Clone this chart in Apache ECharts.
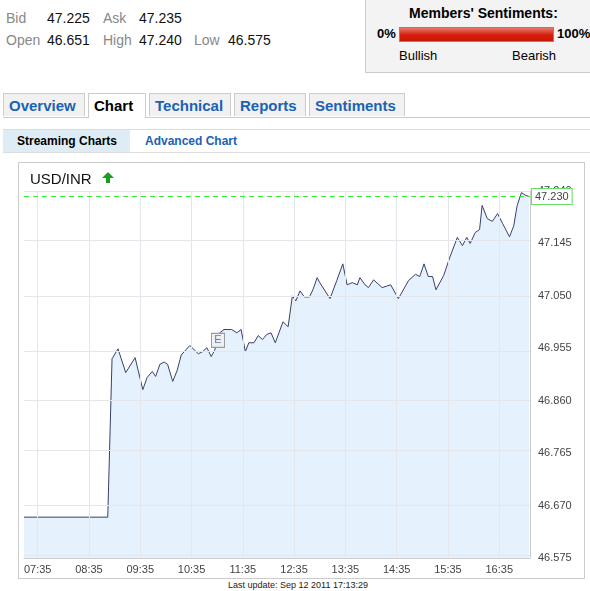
<!DOCTYPE html>
<html lang="en">
<head>
<meta charset="UTF-8">
<title>USD/INR</title>
<script src="https://cdn.jsdelivr.net/npm/echarts@6.0.0/dist/echarts.min.js"></script>
<style>
  body { margin: 0; width: 590px; height: 591px; font-family: "Liberation Sans", Arial, sans-serif; background: #fff; position: relative; overflow: hidden; }
  .quote { position: absolute; left: 6px; font-size: 14px; color: #111; }
  .quote span.k { color: #888; }
  .senti { position: absolute; left: 365px; top: -1px; width: 230px; height: 72px; background: #f3f3f3; border: 1px solid #ccc; font-size: 13px; }
  .bar { position: absolute; left: 33px; top: 27px; width: 153px; height: 13px; border: 1px solid #888; background: linear-gradient(#e8776a, #d61c0a 55%, #c51a08); }
  .tabs { position: absolute; top: 93px; left: 3px; right: 0; height: 24px; border-bottom: 1px solid #ccc; }
  .tab { position: absolute; top: 0; height: 23px; background: #f1f1f1; border: 1px solid #ccc; border-bottom: none; color: #1a62b3; font-weight: bold; font-size: 15px; line-height: 24px; padding-left: 5px; box-sizing: border-box; }
  .tab.on { background: #fff; color: #000; height: 25px; }
  .sub { position: absolute; top: 129px; left: 3px; right: 0; height: 22px; border-top: 1px solid #ddd; border-bottom: 1px solid #ddd; font-size: 12px; font-weight: bold; white-space: nowrap; }
  #chart { position: absolute; left: 18px; top: 162px; width: 565px; height: 415px; border: 1px solid #ccc; }
</style>
</head>
<body>
<div class="quote" style="top:10px"><span class="k">Bid</span><span style="position:absolute;left:41px">47.225</span><span class="k" style="position:absolute;left:97px">Ask</span><span style="position:absolute;left:133px">47.235</span></div>
<div class="quote" style="top:32px"><span class="k">Open</span><span style="position:absolute;left:41px">46.651</span><span class="k" style="position:absolute;left:97px">High</span><span style="position:absolute;left:133px">47.240</span><span class="k" style="position:absolute;left:188px">Low</span><span style="position:absolute;left:222px">46.575</span></div>

<div class="senti">
  <div style="position:absolute;left:43px;top:5px;font-weight:bold;font-size:14px">Members' Sentiments:</div>
  <div style="position:absolute;left:11px;top:26px;font-weight:bold">0%</div>
  <div class="bar"></div>
  <div style="position:absolute;left:191px;top:26px;font-weight:bold">100%</div>
  <div style="position:absolute;left:33px;top:48px">Bullish</div>
  <div style="position:absolute;left:146px;top:48px">Bearish</div>
</div>

<div class="tabs">
  <div class="tab" style="left:0;width:82px">Overview</div>
  <div class="tab on" style="left:85px;width:58px">Chart</div>
  <div class="tab" style="left:146px;width:82px">Technical</div>
  <div class="tab" style="left:231px;width:72px">Reports</div>
  <div class="tab" style="left:306px;width:96px">Sentiments</div>
</div>
<div class="sub">
  <div style="position:absolute;left:0;top:0;width:127px;height:22px;background:#deecf5;line-height:22px;padding-left:14px;box-sizing:border-box">Streaming Charts</div>
  <div style="position:absolute;left:142px;top:0;line-height:22px;color:#1a62b3">Advanced Chart</div>
</div>

<div id="chart"></div>
<div style="position:absolute;left:0;width:596px;top:580px;text-align:center;font-size:9px;color:#222">Last update: Sep 12 2011 17:13:29</div>

<script>
// minutes since midnight
var times = [439, 537, 542, 549, 558, 569, 578, 583, 589, 593, 598, 603, 607, 613, 618, 623, 633, 643, 648, 653, 658, 662,
  668, 673, 682, 688, 693, 698, 702, 708, 713, 718, 723, 728, 733, 742, 748, 753, 757, 762, 767, 773, 777, 782, 785,
  797, 805, 812, 817, 823, 829, 832, 838, 842, 848, 858, 868, 877, 889, 897, 902, 907, 912, 917, 921, 930, 937, 946,
  952, 957, 961, 967, 972, 975, 981, 987, 993, 999, 1002, 1007, 1012, 1016, 1021, 1026, 1030];
var prices = [46.649, 46.649, 46.936, 46.954, 46.911, 46.938, 46.880, 46.902, 46.913, 46.904, 46.926, 46.930, 46.926, 46.895, 46.914, 46.943, 46.960, 46.945, 46.949, 46.956, 46.940, 46.951,
  46.983, 46.989, 46.989, 46.983, 46.989, 46.949, 46.965, 46.965, 46.978, 46.971, 46.980, 46.983, 46.965, 47.003, 46.994, 47.050, 47.041, 47.059, 47.048, 47.048, 47.061, 47.083, 47.074,
  47.045, 47.078, 47.108, 47.070, 47.074, 47.070, 47.083, 47.070, 47.065, 47.079, 47.065, 47.070, 47.045, 47.078, 47.089, 47.085, 47.108, 47.085, 47.085, 47.061, 47.087, 47.119, 47.156,
  47.141, 47.156, 47.145, 47.165, 47.170, 47.214, 47.190, 47.185, 47.199, 47.181, 47.172, 47.157, 47.177, 47.214, 47.237, 47.232, 47.230];
var xTicks = [455, 515, 575, 635, 695, 755, 815, 875, 935, 995];
var yTicks = [46.575, 46.670, 46.765, 46.860, 46.955, 47.050, 47.145, 47.240];
var lastPrice = 47.230;
var eventPoint = [666, 46.953];

var data = times.map(function (t, i) { return [t, prices[i]]; });
function hhmm(m) { var h = Math.floor(m / 60), mm = m % 60; return (h < 10 ? '0' : '') + h + ':' + (mm < 10 ? '0' : '') + mm; }

var chart = echarts.init(document.getElementById('chart'));
chart.setOption({
  animation: false,
  title: { text: 'USD/INR', left: 6, top: 4, textStyle: { fontSize: 15, fontWeight: 'normal', color: '#111', fontFamily: 'Liberation Sans' } },
  graphic: [{ type: 'polygon', left: 83, top: 9, shape: { points: [[6, 0], [12, 6], [8, 6], [8, 11], [4, 11], [4, 6], [0, 6]] }, style: { fill: '#1a9e1a' } }],
  grid: { left: 5, right: 54, top: 28, bottom: 20 },
  xAxis: {
    type: 'value', min: 439, max: 1031,
    axisLine: { show: true, lineStyle: { color: '#ccc' } },
    axisTick: { show: false, customValues: xTicks },
    axisLabel: { customValues: xTicks, formatter: hhmm, color: '#444', fontSize: 11, margin: 6 },
    splitLine: { show: false }
  },
  yAxis: {
    type: 'value', position: 'right', min: 46.575, max: 47.240,
    axisLine: { show: true, lineStyle: { color: '#ccc' } },
    axisTick: { show: false, customValues: yTicks },
    axisLabel: { customValues: yTicks, formatter: function (v) { return v.toFixed(3); }, color: '#444', fontSize: 11, margin: 8 },
    splitLine: { show: false }
  },
  series: [{
    type: 'line', data: data, symbol: 'none',
    lineStyle: { color: '#3a3f6a', width: 1 },
    areaStyle: { color: '#e5f2fd', opacity: 1 },
    markLine: {
      silent: true, symbol: 'none', label: { show: false },
      data: yTicks.map(function (v) { return { yAxis: v, lineStyle: { color: '#e3e6ea', type: 'solid', width: 1 } }; })
        .concat(xTicks.map(function (v) { return { xAxis: v, lineStyle: { color: '#e3e6ea', type: 'solid', width: 1 } }; }))
        .concat([{ yAxis: lastPrice, lineStyle: { color: '#33ee33', type: [5, 4], width: 1 },
          label: { show: true, position: 'end', formatter: lastPrice.toFixed(3), color: '#444', fontSize: 11,
            backgroundColor: '#fff', borderColor: '#66dd66', borderWidth: 1, padding: [2, 3], distance: 2 } }])
    },
    markPoint: {
      symbol: 'rect', symbolSize: [13, 14], symbolOffset: [0, -9],
      itemStyle: { color: '#eef0f2', borderColor: '#999', borderWidth: 1 },
      label: { show: true, formatter: 'E', color: '#5a7fb0', fontSize: 11 },
      data: [{ coord: eventPoint }]
    }
  }]
});
</script>
</body>
</html>
